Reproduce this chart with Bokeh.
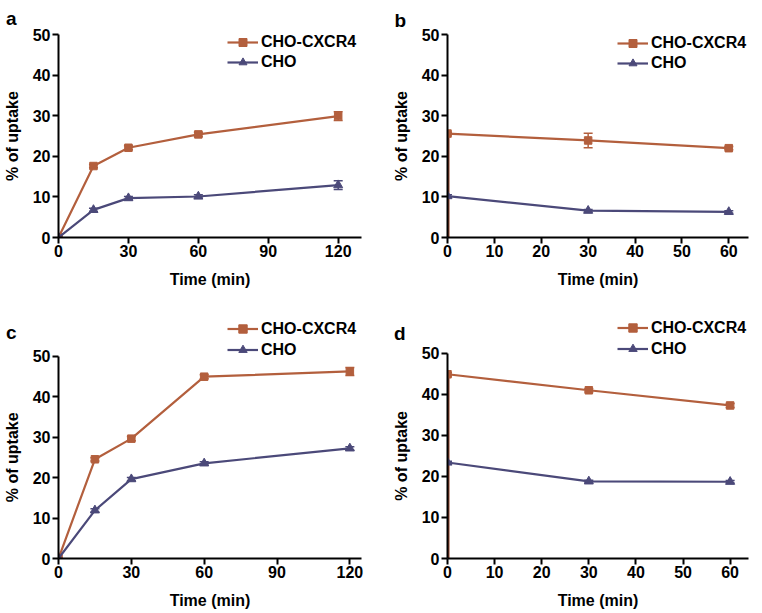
from bokeh.plotting import figure
from bokeh.layouts import gridplot
from bokeh.models import (ColumnDataSource, Legend, LegendItem, Label, Whisker,
                          TeeHead, FixedTicker, Range1d)
from bokeh.embed import file_html
from bokeh.resources import INLINE

# ---------------- data ----------------
a_time = [0, 15, 30, 60, 120]
a_cxcr4 = [0, 17.6, 22.1, 25.4, 29.9]
a_cxcr4_err = [0, 0.4, 0.5, 0.5, 1.1]
a_cho = [0, 6.8, 9.7, 10.1, 12.9]
a_cho_err = [0, 0.4, 0.4, 0.4, 1.1]

b_time = [0, 30, 60]
b_cxcr4 = [25.6, 23.9, 22.0]
b_cxcr4_err = [0.3, 1.8, 0.4]
b_cho = [10.2, 6.6, 6.3]
b_cho_err = [0.3, 0.3, 0.3]

c_time = [0, 15, 30, 60, 120]
c_cxcr4 = [0, 24.5, 29.6, 44.9, 46.2]
c_cxcr4_err = [0, 0.4, 0.5, 0.5, 1.0]
c_cho = [0, 11.9, 19.6, 23.5, 27.2]
c_cho_err = [0, 0.4, 0.4, 0.4, 0.4]

d_time = [0, 30, 60]
d_cxcr4 = [44.9, 41.0, 37.3]
d_cxcr4_err = [0.4, 0.4, 0.5]
d_cho = [23.4, 18.8, 18.7]
d_cho_err = [0.3, 0.3, 0.3]

series_names = ["CHO-CXCR4", "CHO"]
ticks_long = [0, 30, 60, 90, 120]
ticks_short = [0, 10, 20, 30, 40, 50, 60]
y_ticks = [0, 10, 20, 30, 40, 50]
x_title = "Time (min)"
y_title = "% of uptake"

ORANGE = "#b35f3d"
NAVY = "#4b4979"
EDGE = "#8b3f26"
FONT = "Liberation Sans"


def make_panel(letter, time, cx, cx_err, cho, cho_err, xticks, xend, yend,
               borders, legend_loc, legend_h, letter_pos, ylabel_x, vertical):
    left, right, top, bottom = borders
    p = figure(width=380, height=306, output_backend="svg", toolbar_location=None,
               x_range=Range1d(0, xend), y_range=Range1d(0, yend),
               min_border_left=left, min_border_right=right,
               min_border_top=top, min_border_bottom=bottom)
    p.outline_line_color = None
    p.xgrid.visible = False
    p.ygrid.visible = False
    p.background_fill_color = "white"

    for ax in (p.xaxis[0], p.yaxis[0]):
        ax.axis_line_width = 2
        ax.axis_line_color = "black"
        ax.major_tick_line_width = 2
        ax.major_tick_line_color = "black"
        ax.major_tick_out = 6
        ax.major_tick_in = 0
        ax.minor_tick_line_color = None
        ax.major_label_text_font = FONT
        ax.major_label_text_font_style = "bold"
        ax.major_label_text_font_size = "16px"
        ax.major_label_text_color = "black"
        ax.axis_label_text_font = FONT
        ax.axis_label_text_font_style = "bold"
        ax.axis_label_text_font_size = "16px"
        ax.axis_label_text_color = "black"

    p.xaxis.ticker = FixedTicker(ticks=xticks)
    p.yaxis.ticker = FixedTicker(ticks=y_ticks)
    p.yaxis.bounds = (y_ticks[0], y_ticks[-1])
    p.xaxis.axis_label = x_title
    p.xaxis.major_label_standoff = 1
    p.yaxis.major_label_standoff = 2
    p.xaxis.axis_label_standoff = 11

    if ylabel_x is None:
        p.yaxis.axis_label = y_title
        p.yaxis.axis_label_standoff = 9
    else:
        p.add_layout(Label(x=ylabel_x, y=(y_ticks[0] + y_ticks[-1]) / 2,
                           x_units="data", y_units="data", text=y_title,
                           angle=90, angle_units="deg", text_align="center",
                           text_baseline="middle", text_font=FONT,
                           text_font_style="bold", text_font_size="16px",
                           text_color="black"), "left")

    if vertical:
        p.segment(x0=[time[0]], y0=[0], x1=[time[0]], y1=[cx[0]],
                  line_color=EDGE, line_width=4)

    src_cx = ColumnDataSource(dict(t=time, y=cx,
                                   lo=[v - e for v, e in zip(cx, cx_err)],
                                   hi=[v + e for v, e in zip(cx, cx_err)]))
    src_cho = ColumnDataSource(dict(t=time, y=cho,
                                    lo=[v - e for v, e in zip(cho, cho_err)],
                                    hi=[v + e for v, e in zip(cho, cho_err)]))

    l1 = p.line("t", "y", source=src_cx, line_color=ORANGE, line_width=2.2)
    m1 = p.scatter("t", "y", source=src_cx, marker="square", size=7.5,
                   fill_color=ORANGE, line_color=ORANGE)
    l2 = p.line("t", "y", source=src_cho, line_color=NAVY, line_width=2.2)
    m2 = p.scatter("t", "y", source=src_cho, marker="triangle", size=9,
                   fill_color=NAVY, line_color=NAVY)

    for src, col in ((src_cx, ORANGE), (src_cho, NAVY)):
        w = Whisker(source=src, base="t", upper="hi", lower="lo",
                    line_color=col, line_width=1.5,
                    upper_head=TeeHead(size=9, line_color=col, line_width=1.5),
                    lower_head=TeeHead(size=9, line_color=col, line_width=1.5))
        p.add_layout(w)

    legend = Legend(items=[LegendItem(label=series_names[0], renderers=[l1, m1]),
                           LegendItem(label=series_names[1], renderers=[l2, m2])],
                    location=legend_loc, padding=0, spacing=0, margin=0,
                    glyph_width=31, glyph_height=legend_h, label_height=legend_h,
                    label_standoff=3, border_line_color=None,
                    background_fill_alpha=0,
                    label_text_font=FONT, label_text_font_style="bold",
                    label_text_font_size="16px", label_text_color="black")
    p.add_layout(legend, "center")

    lx, ly = letter_pos
    p.add_layout(Label(x=lx, y=ly, x_units="data", y_units="data",
                       text=letter, text_font=FONT, text_font_style="bold",
                       text_font_size="19px", text_color="black",
                       text_baseline="alphabetic"), "right")
    return p


pa = make_panel("a", a_time, a_cxcr4, a_cxcr4_err, a_cho, a_cho_err,
                ticks_long, 130, 50, (57, 19, 34, 69), (169, 165), 20,
                (-22.5, 53.95), None, False)
pb = make_panel("b", b_time, b_cxcr4, b_cxcr4_err, b_cho, b_cho_err,
                ticks_short, 64.2, 50, (67, 12, 33, 69), (170, 164), 20,
                (-11.3, 53.5), None, True)
pc = make_panel("c", c_time, c_cxcr4, c_cxcr4_err, c_cho, c_cho_err,
                ticks_long, 124.8, 61.0, (57, 19, 5, 54), (169, 198), 21,
                (-21.6, 55.85), -18.8, False)
pd = make_panel("d", d_time, d_cxcr4, d_cxcr4_err, d_cho, d_cho_err,
                ticks_short, 63.9, 60.2, (67, 12, 5, 54), (170, 199), 21,
                (-11.35, 54.9), -9.87, True)

grid = gridplot([[pa, pb], [pc, pd]], toolbar_location=None)

open("out.html", "w").write(file_html(grid, INLINE))
